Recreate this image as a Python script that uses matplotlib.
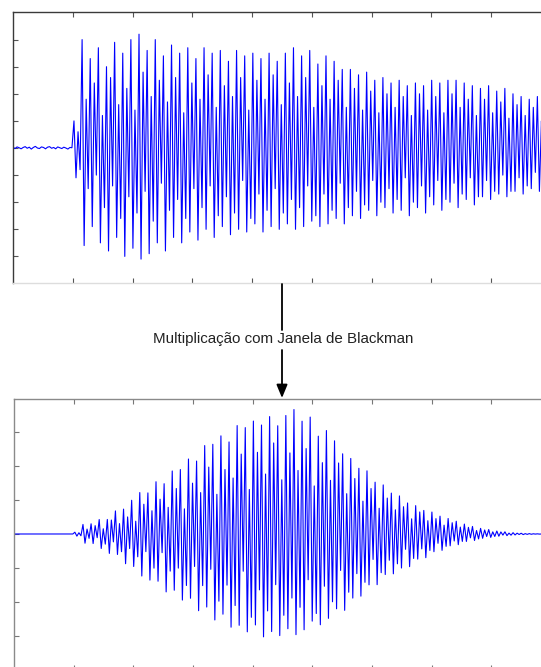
import matplotlib
matplotlib.use('Agg')
import matplotlib.pyplot as plt
from matplotlib.patches import FancyArrowPatch
import numpy as np

# Signal (tick units, one tick = 1)
# quiet part before the onset
pre_noise = [0.03, -0.02, 0.04, 0.01, -0.03, 0.02, 0.05, -0.01, 0.03, -0.04,
             0.02, 0.06, 0.0, -0.02, 0.04, 0.02, -0.03, 0.03, 0.05, -0.01,
             0.02, -0.03, 0.04, 0.01, -0.02, 0.03, 0.0, -0.04, 0.02, 0.01]

# after the onset: peak, trough, peak, trough per cycle
top_wave = [
    1.0, -1.1, 0.6, -0.8,   4.0, -3.6, 1.8, -1.5,   3.3, -2.9, 2.4, -1.0,
    3.7, -3.5, 1.2, -2.2,   3.0, -3.8, 2.6, -1.4,   3.9, -3.3, 1.6, -2.6,
    3.5, -4.0, 2.2, -1.8,   4.0, -3.7, 1.4, -2.4,   4.2, -4.1, 2.8, -1.6,
    3.6, -3.9, 1.9, -2.7,   4.0, -3.5, 2.5, -1.3,   3.4, -3.8, 1.7, -2.3,
    3.8, -3.3, 2.6, -1.9,   3.5, -3.5, 1.3, -2.6,   3.7, -3.1, 2.4, -1.5,
    3.3, -3.4, 1.8, -2.2,   3.7, -3.0, 2.7, -1.4,   3.5, -3.3, 1.5, -2.5,
    3.6, -2.9, 2.3, -1.8,   3.2, -3.2, 1.9, -2.4,   3.6, -3.0, 2.6, -1.2,
    3.4, -3.1, 1.4, -2.6,   3.5, -2.8, 2.5, -1.7,   3.3, -3.1, 1.8, -2.3,
    3.5, -2.9, 2.7, -1.5,   3.2, -3.0, 1.6, -2.4,   3.5, -2.8, 2.4, -1.9,
    3.7, -3.0, 1.9, -2.2,   3.4, -2.9, 2.6, -1.4,   3.6, -2.7, 1.5, -2.5,
    3.1, -2.9, 2.3, -1.7,   3.4, -2.8, 1.8, -2.3,   3.2, -2.6, 2.5, -1.3,
    2.9, -2.8, 1.5, -2.2,   2.9, -2.5, 2.2, -1.6,   2.7, -2.6, 1.4, -2.1,
    2.8, -2.3, 2.1, -1.2,   2.5, -2.5, 1.3, -2.0,   2.6, -2.2, 2.0, -1.5,
    2.4, -2.4, 1.5, -1.9,   2.5, -2.3, 1.9, -1.1,   2.3, -2.5, 1.2, -2.0,
    2.4, -2.2, 2.0, -1.4,   2.3, -2.4, 1.4, -1.8,   2.5, -2.1, 1.9, -1.2,
    2.4, -2.3, 1.3, -1.9,   2.5, -2.0, 2.0, -1.3,   2.5, -2.2, 1.5, -1.7,
    2.4, -1.9, 1.8, -1.1,   2.3, -2.1, 1.2, -1.8,   2.2, -1.8, 1.8, -1.2,
    2.3, -1.9, 1.3, -1.6,   2.1, -1.7, 1.7, -1.0,   2.2, -1.8, 1.1, -1.6,
    2.0, -1.6, 1.6, -1.1,   1.9, -1.7, 1.2, -1.4,   1.8, -1.5, 1.5, -0.9,
    1.9, -1.6, 1.0, -1.4,   1.7, -1.5, 1.4, -1.0,
]

sample_step = 0.034  # x units between samples
caption = 'Multiplicação com Janela de Blackman'

signal = np.array(pre_noise + top_wave)
t = np.arange(len(signal)) * sample_step
windowed = signal * np.blackman(len(signal))

W, H = 541, 667
fig = plt.figure(figsize=(W / 100, H / 100), dpi=100)


def style_axes(ax, ylim, dark, light, tick_color):
    ax.set_xlim(0, 9)
    ax.set_ylim(-ylim, ylim)
    ax.set_xticks(np.arange(1, 9))
    ax.set_yticks(np.arange(-ylim + 1, ylim))
    ax.tick_params(direction='in', length=3.8, width=0.8, color=tick_color,
                   top=True, bottom=True, left=True, right=False,
                   labelbottom=False, labelleft=False)
    ax.spines['left'].set_color(dark)
    ax.spines['top'].set_color(dark)
    ax.spines['bottom'].set_color(light)
    ax.spines['right'].set_visible(False)
    for s in ax.spines.values():
        s.set_linewidth(1.0)


# top panel: raw signal
ax1 = fig.add_axes([13 / W, 1 - 283.5 / H, 538 / W, 271 / H])
ax1.plot(t, signal, color='#0000ff', lw=0.8)
style_axes(ax1, 5, '#3a3a3a', '#dddddd', '#555555')

# bottom panel: windowed signal
ax2 = fig.add_axes([14 / W, 1 - 669.5 / H, 537 / W, 271 / H])
ax2.plot(t, windowed, color='#0000ff', lw=0.8)
style_axes(ax2, 4, '#8a8a8a', '#cccccc', '#777777')

# arrow with caption between the panels
xa = 282 / W
fig.add_artist(FancyArrowPatch((xa, 1 - 284 / H), (xa, 1 - 330 / H),
                               transform=fig.transFigure, arrowstyle='-',
                               lw=1.3, color='black', shrinkA=0, shrinkB=0))
fig.add_artist(FancyArrowPatch((xa, 1 - 350 / H), (xa, 1 - 398 / H),
                               transform=fig.transFigure,
                               arrowstyle='-|>,head_length=0.8,head_width=0.33',
                               mutation_scale=10, lw=1.3, color='black',
                               shrinkA=0, shrinkB=0))
fig.text(283 / W, 1 - 339 / H, caption, ha='center', va='center',
         fontsize=10.9, family='Liberation Sans', color='#222222')

fig.savefig('out.png', dpi=100)
